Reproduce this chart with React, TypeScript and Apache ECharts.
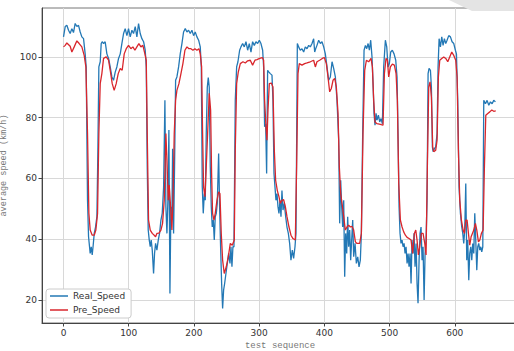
import React, { useEffect, useRef } from "react";
import * as echarts from "echarts";

const realX = [0,2.6,5.1,7.7,10.2,12.8,15.3,17.9,20.5,23,25.6,28.1,30.7,33.2,34.8,36.8,38.4,39.9,40.9,42.5,44,45.5,47.1,49.1,51.2,52.7,54.2,56.3,57.8,59.3,61.4,63.9,66.5,69.1,71.6,74.2,76.7,79.3,81.8,84.4,87,89.5,92.1,94.6,97.2,99.7,102.3,104.9,107.4,110,112.5,115.1,117.6,120.2,122.8,125.3,126.9,128.4,129.9,131.5,133,134.5,136.1,138.1,139.6,141.2,143.2,145.3,147.3,149.4,151.4,153.5,155.5,157,158.6,160.1,161.6,163.2,164.7,166.2,167.3,168.8,170.3,171.9,173.9,176.5,179,181.6,184.1,186.7,189.3,191.8,194.4,196.9,199.5,202,204.6,207.2,209.7,211.3,212.8,214.3,215.9,217.4,218.9,220.5,222,223.5,225.1,226.6,228.1,229.7,231.2,232.7,234.3,235.8,237.9,239.4,240.9,242.5,244,245.5,247.1,249.1,251.2,253.2,255.3,256.8,258.3,259.8,261.4,263.4,265.5,267.5,270.1,272.1,274.7,277.2,279.8,282.4,284.9,287.5,290,292.6,295.1,297.7,300.3,302.8,305.4,306.9,308.4,310,311.5,313,315.1,317.1,319.7,321.2,322.8,324.3,325.8,327.4,328.9,330.4,332,333.5,335,336.6,338.6,340.7,342.7,344.8,346.8,348.8,350.9,352.9,355,356.5,358.6,360.6,363.1,365.7,368.3,370.8,373.4,376,378.5,381.1,383.6,385.2,386.7,388.7,391.3,393.9,396.4,399,401.5,404.1,406.6,409.2,411.8,414.3,416.9,419.4,422,423.5,425.1,426.6,428.1,429.7,431.2,432.7,434.3,435.8,437.3,438.9,440.4,441.9,443.5,445,447.1,449.1,451.2,453.2,455.2,456.8,458.8,460.9,463,465,467.1,469.1,471.1,473.1,474.7,476.2,477.7,479.3,480.8,482.9,484.9,487,489,491,493.6,495.7,497.7,499.7,501.8,504.3,506.9,509.5,511.5,513,514.6,516.1,517.6,519.2,520.7,522.3,523.8,525.3,526.9,528.4,529.9,531.5,533,534.5,536.1,537.6,539.1,540.7,542.2,543.7,545.3,546.8,548.3,549.9,551.4,553,554.5,556,557.5,559.1,560.6,562.7,564.2,565.7,566.8,568.8,570.8,572.9,574.4,576,578,580.1,582.1,584.1,586.2,588.2,590.8,593.4,595.9,598.5,601,602.6,604.6,606.6,608.7,610.7,612.3,613.8,615.3,616.9,618.4,619.9,621.5,623,624.6,626.1,627.6,629.2,630.7,632.2,633.8,635.3,636.8,638.4,639.9,641.4,643,644.5,647.1,649.6,652.2,654.7,657.3,659.8,662.4];
const realY = [106.6,110,110.4,108.8,107.7,109.3,108,111,110,110.4,108.2,106.6,106,101,96.7,52.8,40.8,37.5,35.3,37.5,34.8,38,41.9,44,47.4,69.3,96.7,98.4,104.4,105,104.4,105,101,99.5,96.7,93.4,92.3,95,96.7,99.5,101,104.4,107.7,109.3,107,109.3,106.6,108.8,107.7,110,106.6,111,107.7,106,105,102.2,96.7,63.8,43,39.7,37.5,39.7,36.4,28.7,35.3,38.6,36.4,39.7,41.9,46.3,48.5,57.2,85.7,50.7,41.9,52.8,75.9,22.1,50.7,46.3,69.8,41.9,63.8,92.3,93.4,96.7,101,104.4,108.2,109.3,108.2,108.8,107.7,108.8,107,108.2,106.6,105.5,103.3,96.7,57.2,48.5,55,52.8,74.8,90,93.2,90,63.8,50.7,44,46.3,39.7,47.4,48.5,51.8,68.2,50.7,37.5,25.4,17.2,23.2,25.4,28.7,32,35.3,32,37.5,30.9,37.5,37.5,85.7,96.7,98.4,102.2,103.3,104.4,103.3,105,102.2,104.4,101.6,105,103.8,105,104.4,105.5,104.4,102.2,96.7,77,78,61.6,95.6,95,94.5,94,85.7,61.6,57.2,52.8,55,50.7,48.5,52.8,47.4,56,49.6,51.8,47.4,44,41.9,38.6,33.1,36.4,33.7,37.5,41.9,104.4,103.3,102.2,102.7,101.6,103.3,102.7,103.8,103.3,104.4,106,101.6,102.7,103.8,105.5,104.4,105,103.3,101,96.7,92.3,93.4,98.4,96.2,93.4,85.7,72.6,45.2,59.4,50.7,44,52.8,27.6,41.9,35.3,47.4,37.5,43,33.1,39.7,46.3,34.2,38.6,32,34.2,30.9,33.1,41.9,74.8,102.2,103.8,102.7,104.4,102.2,105.5,100,91.2,81.4,77.5,81.4,79.2,80.8,78.6,79.7,78,96.7,105.5,103.3,96.7,97.8,101.6,102.2,101,98.9,93.4,74.8,50.7,41.9,38.6,39.7,37.5,38.6,35.3,37.5,32,35.3,30.9,35.3,25.4,39.7,35.3,41.9,30.9,38.6,25.4,18.9,33.1,41.9,44,33.1,37.5,20,35.3,39.7,52.8,94.5,96.2,95.6,90,70.4,68.8,69.8,70.4,74.8,96.7,106,103.3,106.6,103.8,106,104.4,105.5,107,106.6,105,104.4,102.2,101,85.7,57.2,48.5,44,41.9,38.6,43,58.3,33.1,39.7,26.5,35.3,37.5,33.1,38.6,35.3,48.5,39.7,29.8,37.5,38.6,36.4,37.5,35.8,37.5,85.7,84.6,85.7,84.1,85.2,84.6,85.7,85.2];

const preX = [0,2.6,5.1,10.2,12.8,16.4,20.5,24,28.1,31.7,34.3,36.8,38.9,40.9,44,47.1,49.6,52.2,54.2,56.3,58.8,61.4,65.5,69.1,71.6,74.7,77.7,80.8,83.9,87,90,93.1,96.2,99.7,103.3,106.4,109.5,112.5,115.6,118.7,121.7,124.8,126.9,128.4,130.4,133,136.1,139.1,141.2,143.2,146.3,149.4,151.9,154.5,157,158.6,160.6,162.1,164.2,166.2,167.8,169.8,171.9,173.9,177,180.1,183.1,186.2,189.3,192.3,195.4,198.5,201.5,204.6,207.7,209.7,211.8,213.3,214.8,216.9,218.9,221,223.5,225.6,227.1,228.6,230.7,232.7,235.3,237.9,239.9,241.9,244,246.5,249.6,252.7,255.8,258.8,261.9,263.4,265.5,268,271.1,275.2,278.8,282.4,286.4,290,293.6,296.7,300.8,304.9,306.9,308.4,310.5,312,313.6,315.6,318.7,321.2,323.3,325.3,327.9,330.4,332.5,335,337.6,340.2,342.7,345.8,348.8,351.9,355.5,357.5,359.6,361.6,365.7,369.8,373.4,378.5,383.6,386.2,388.7,392.8,396.9,400,403.1,405.6,408.2,410.7,413.3,415.9,418.4,421,423,425.1,427.1,429.7,432.2,434.8,437.3,439.9,442.5,445,447.6,450.1,454.2,456.8,459.3,461.9,464.5,468,471.6,473.7,475.7,477.7,480.8,485.9,490,492.1,494.6,496.7,498.7,501.3,504.3,507.4,510,512,514.1,516.6,519.2,521.7,524.3,526.9,529.9,533,535.5,538.1,540.2,542.2,544.2,546.3,548.8,551.4,554,556,558,560.1,562.1,564.2,566.2,567.8,570.8,572.9,574.9,577,580.1,583.1,586.2,589.3,592.3,595.4,598.5,601.5,603.6,605.6,607.7,610.2,612.8,614.8,616.9,618.9,621,623,625.1,627.1,629.2,631.7,633.8,636.3,638.4,640.9,643.5,645.5,647.6,650.7,653.7,656.8,659.8,662.9];
const preY = [103.3,103.8,104.6,103.5,101.6,103.3,105.3,104.4,103.3,100.5,96.7,74.8,48.5,43,41.3,41.3,43,48.5,74.8,91.2,94.5,99.5,100,98.9,95.6,91.2,89,91.2,94.5,96.2,95.6,101,102.7,103.8,102.7,103.3,102.2,103.3,104.4,103.3,103.8,101,98.9,74.8,46.3,43,41.9,41.3,40.8,41.9,42,43,45.2,52.8,74.8,66,52.8,57.8,50.7,43,52.8,74.8,85.7,89,91.2,94.5,97.8,102.2,103.3,102.7,102.7,102.2,102.7,102.2,102.7,101,96.7,74.8,57.2,54,63.8,74.8,88,82.5,61.6,48.5,46.3,48.5,52.8,55.6,55,41.9,33.1,28.7,30.9,34.2,38.6,38,39.7,69.3,91.2,95,97.8,98.4,98,98.7,98.9,97.3,98.9,99.1,99.5,99.8,98.9,85.7,77,72.6,82.5,91.2,91.4,90.1,69.3,59.4,56,54,51.8,52.8,53,50.7,47.4,44,41.3,40.2,39.7,63.8,94.5,97.8,97.3,97.8,98,98.4,98.9,96.7,98.4,98.9,99.5,99.8,97.8,93.4,88.5,89.6,92.3,92.9,90.1,81.4,63.8,55,51.8,47.4,43,44,44.6,44,44.2,43,39.1,38.6,38.6,41.9,74.8,95.6,98.9,98.4,99.5,96.7,85.7,78.6,78,77.8,77.5,94.5,99.5,98.9,93.4,96.7,97.6,97.3,94.5,85.7,58.3,46.3,44,42.4,41.3,40.6,40.2,39.7,35.3,41.9,43,39.7,34.8,37.5,41.9,41.9,38.6,34.8,63.8,90.1,91.8,86.8,70.4,68.8,69.3,72.6,93.4,98.9,99.5,100,99.5,98.4,100,101.6,100.5,98.9,93.4,69.3,52.8,46.3,43,41.9,46.3,46.3,41.9,38,40.8,41.9,43,45.2,43,39.1,39.7,41.9,43,63.8,80.8,81.4,81.9,82.5,82.1,82.2];

const xTicks = [0, 100, 200, 300, 400, 500, 600];
const yTicks = [20, 40, 60, 80, 100];
const seriesNames = ["Real_Speed", "Pre_Speed"];

export default function App() {
  const ref = useRef<HTMLDivElement>(null);
  useEffect(() => {
    if (!ref.current) return;
    const chart = echarts.init(ref.current, null, { renderer: "svg" });
    const realData = realX.map((x, i) => [x, realY[i]]);
    const preData = preX.map((x, i) => [x, preY[i]]);
    const labelStyle = { fontFamily: "DejaVu Sans", fontSize: 9, color: "#333" };
    chart.setOption({
      animation: false,
      backgroundColor: "#fff",
      grid: {
        left: 42,
        top: 8,
        width: 476,
        height: 315,
        outerBoundsMode: "none",
        containLabel: false,
        show: true,
        borderColor: "#777",
        borderWidth: 1,
      },
      xAxis: {
        type: "value",
        min: -33,
        max: 697,
        name: "test sequence",
        nameLocation: "middle",
        nameGap: 17,
        nameTextStyle: { fontFamily: "Liberation Mono", fontSize: 9, color: "#777" },
        axisLine: { show: true, onZero: false, lineStyle: { color: "#444", width: 1 } },
        axisTick: { show: true, length: 3.5, customValues: xTicks, lineStyle: { color: "#444" } },
        axisLabel: { ...labelStyle, margin: 5, customValues: xTicks },
        splitLine: { show: true, lineStyle: { color: "#d8d8d8", width: 1 } },
      },
      yAxis: {
        type: "value",
        min: 12.4,
        max: 116.1,
        name: "average speed (km/h)",
        nameLocation: "middle",
        nameGap: 27,
        nameTextStyle: { fontFamily: "Liberation Mono", fontSize: 8.5, color: "#777" },
        axisLine: { show: true, onZero: false, lineStyle: { color: "#444", width: 1 } },
        axisTick: { show: true, length: 3.5, customValues: yTicks, lineStyle: { color: "#444" } },
        axisLabel: { ...labelStyle, margin: 5, customValues: yTicks },
        splitLine: { show: true, lineStyle: { color: "#d8d8d8", width: 1 } },
      },
      legend: {
        orient: "vertical",
        left: 46,
        top: 289,
        data: seriesNames.map((n) => ({ name: n, icon: "rect" })),
        itemWidth: 18,
        itemHeight: 1.5,
        itemGap: 2,
        padding: [1, 6, 2, 4],
        borderColor: "#ccc",
        borderWidth: 1,
        borderRadius: 3,
        backgroundColor: "#fff",
        textStyle: { fontFamily: "DejaVu Sans", fontSize: 9, color: "#333", lineHeight: 12 },
      },
      graphic: [
        {
          type: "polygon",
          shape: { points: [[449, 0], [514, 0], [514, 11], [472, 11]] },
          style: { fill: "#e4e4e4" },
          z: 100,
        },
      ],
      series: [
        {
          name: seriesNames[0],
          type: "line",
          data: realData,
          showSymbol: false,
          symbol: "none",
          lineStyle: { color: "#2378b5", width: 1.3 },
          itemStyle: { color: "#2378b5" },
        },
        {
          name: seriesNames[1],
          type: "line",
          data: preData,
          showSymbol: false,
          symbol: "none",
          lineStyle: { color: "#d9262c", width: 1.3 },
          itemStyle: { color: "#d9262c" },
        },
      ],
    });
    return () => chart.dispose();
  }, []);
  return <div ref={ref} style={{ width: 514, height: 351, position: "fixed", left: 0, top: 0 }} />;
}
